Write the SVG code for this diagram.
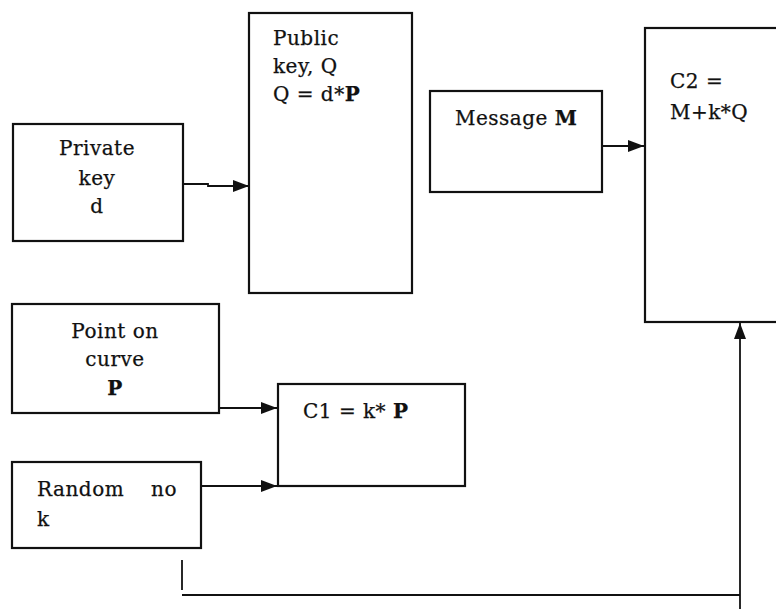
<svg xmlns="http://www.w3.org/2000/svg" width="776" height="609" viewBox="0 0 776 609">
<style>
.box{fill:#fff;stroke:#111;stroke-width:2.2}
.t{font-family:"DejaVu Serif","Liberation Serif",serif;font-size:20px;letter-spacing:0.5px;fill:#111;stroke:#111;stroke-width:0.25}
.b{font-weight:bold}
.c{fill:none;stroke:#111;stroke-width:1.8}
</style>
<defs>
<marker id="ah" viewBox="0 0 16 12" refX="16" refY="6" markerWidth="16" markerHeight="12" markerUnits="userSpaceOnUse" orient="auto">
<path d="M0,0 L16,6 L0,12 Z" fill="#111"/>
</marker>
</defs>
<rect width="776" height="609" fill="#fff"/>
<g id="private-key">
<rect class="box" x="13" y="124" width="170" height="117"/>
<text class="t" text-anchor="middle" x="97" y="155">Private</text>
<text class="t" text-anchor="middle" x="97" y="185">key</text>
<text class="t" text-anchor="middle" x="97" y="213">d</text>
</g>
<g id="public-key">
<rect class="box" x="249" y="13" width="163" height="280"/>
<text class="t" x="273" y="45">Public</text>
<text class="t" x="273" y="73">key, Q</text>
<text class="t" x="273" y="101">Q = d*<tspan class="b">P</tspan></text>
</g>
<g id="message">
<rect class="box" x="430" y="91" width="172" height="101"/>
<text class="t" x="455" y="125">Message <tspan class="b">M</tspan></text>
</g>
<g id="c2">
<rect class="box" x="645" y="28" width="140" height="294"/>
<text class="t" x="670" y="88">C2 =</text>
<text class="t" x="670" y="119">M+k*Q</text>
</g>
<g id="point">
<rect class="box" x="12" y="304" width="207" height="109"/>
<text class="t" text-anchor="middle" x="115" y="338">Point on</text>
<text class="t" text-anchor="middle" x="115" y="366">curve</text>
<text class="t b" text-anchor="middle" x="115" y="395">P</text>
</g>
<g id="c1">
<rect class="box" x="278" y="384" width="187" height="102"/>
<text class="t" x="303" y="418">C1 = k* <tspan class="b">P</tspan></text>
</g>
<g id="random">
<rect class="box" x="12" y="462" width="189" height="86"/>
<text class="t" x="37" y="496">Random<tspan x="151">no</tspan></text>
<text class="t" x="37" y="526">k</text>
</g>
<g id="connectors">
<path class="c" d="M183,184 H208 V186 H249" marker-end="url(#ah)"/>
<path class="c" d="M602,146 H644" marker-end="url(#ah)"/>
<path class="c" d="M219,408 H277" marker-end="url(#ah)"/>
<path class="c" d="M201,486 H277" marker-end="url(#ah)"/>
<path class="c" d="M182,560 V590"/>
<path class="c" d="M182,595 H740"/>
<path class="c" d="M740,609 V323" marker-end="url(#ah)"/>
</g>
</svg>
